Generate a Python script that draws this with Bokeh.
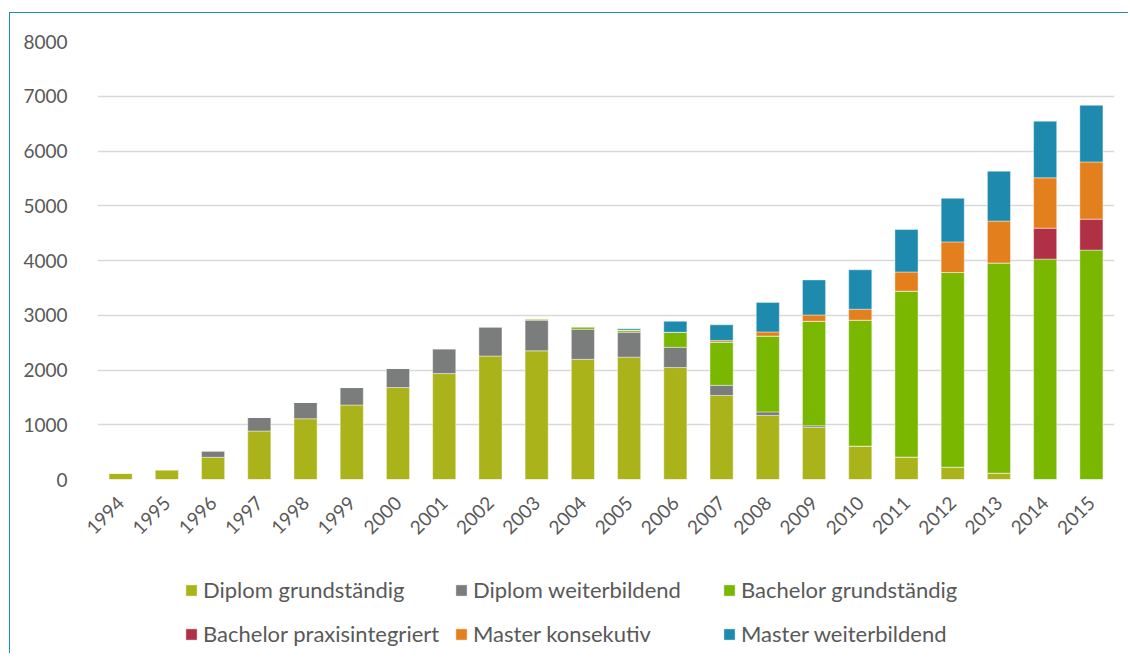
from bokeh.plotting import figure
from bokeh.models import ColumnDataSource, FactorRange, Legend, LegendItem, Range1d, FixedTicker
from bokeh.layouts import column
from bokeh.embed import file_html
from bokeh.resources import INLINE
import math

years = [str(y) for y in range(1994, 2016)]
diplom_grund = [120, 180, 405, 885, 1110, 1360, 1680, 1935, 2255, 2350, 2195, 2235, 2045, 1535, 1170, 950, 610, 410, 225, 115, 0, 0]
diplom_weiter = [0, 0, 120, 250, 300, 320, 350, 455, 535, 560, 550, 455, 370, 185, 65, 30, 0, 0, 0, 0, 0, 0]
bachelor_grund = [0, 0, 0, 0, 0, 0, 0, 0, 0, 25, 45, 30, 275, 790, 1385, 1910, 2300, 3030, 3555, 3840, 4025, 4190]
bachelor_praxis = [0, 0, 0, 0, 0, 0, 0, 0, 0, 0, 0, 0, 0, 0, 0, 0, 0, 0, 0, 0, 565, 565]
master_kons = [0, 0, 0, 0, 0, 0, 0, 0, 0, 0, 0, 10, 0, 30, 75, 115, 200, 350, 560, 765, 920, 1045]
master_weiter = [0, 0, 0, 0, 0, 0, 0, 0, 0, 0, 0, 25, 200, 285, 540, 640, 720, 775, 795, 910, 1035, 1035]

series_keys = ["dg", "dw", "bg", "bp", "mk", "mw"]
series_labels = ["Diplom grundständig", "Diplom weiterbildend", "Bachelor grundständig",
                 "Bachelor praxisintegriert", "Master konsekutiv", "Master weiterbildend"]
colors = ["#ABB31B", "#7A7D7C", "#7AB700", "#B03045", "#E47F1D", "#1D8AAE"]
y_ticks = [0, 1000, 2000, 3000, 4000, 5000, 6000, 7000, 8000]

source = ColumnDataSource(dict(year=years, dg=diplom_grund, dw=diplom_weiter, bg=bachelor_grund,
                               bp=bachelor_praxis, mk=master_kons, mw=master_weiter))

FONT = "Lato"
TXT = "#595959"

p = figure(x_range=FactorRange(*years, range_padding=0), y_range=Range1d(0, 8000),
           width=1118, height=530, output_backend="svg", toolbar_location=None,
           min_border_left=87, min_border_right=14, min_border_top=28, min_border_bottom=64)
p.outline_line_color = None

renderers = p.vbar_stack(series_keys, x="year", width=0.5, color=colors, source=source,
                         line_color="white", line_width=0.6, line_alpha=0.7)

p.xgrid.grid_line_color = None
p.ygrid.grid_line_color = "#D9D9D9"
p.ygrid.grid_line_width = 1.5
p.yaxis.ticker = FixedTicker(ticks=y_ticks)

for ax in (p.xaxis, p.yaxis):
    ax.axis_line_color = None
    ax.major_tick_line_color = None
    ax.minor_tick_line_color = None
    ax.major_label_text_font = FONT
    ax.major_label_text_font_size = "19px"
    ax.major_label_text_color = TXT

p.yaxis.major_label_standoff = 24
p.xaxis.major_label_orientation = math.pi / 4
p.xaxis.major_label_standoff = 14

# legend panel below the chart (swatch renderers sit outside the visible range)
lg = figure(width=1118, height=110, output_backend="svg", toolbar_location=None,
            x_range=Range1d(0, 1), y_range=Range1d(0, 1), min_border=0,
            x_axis_type=None, y_axis_type=None)
lg.outline_line_color = None
lg.grid.visible = False
swatches = [lg.vbar(x=[-10], top=[0], width=0.5, color=c, line_color="white", line_width=0.6, line_alpha=0.7)
            for c in colors]

cols = [(0, 3), (1, 4), (2, 5)]
xs = [87, 357, 625]
for (a, b), x in zip(cols, xs):
    items = [LegendItem(label=series_labels[a], renderers=[swatches[a]]),
             LegendItem(label=series_labels[b], renderers=[swatches[b]])]
    leg = Legend(items=items, location=(x, 6), orientation="vertical",
                 padding=0, margin=0, spacing=17, border_line_color=None,
                 background_fill_alpha=0, glyph_width=14, glyph_height=14,
                 label_standoff=5, label_text_font=FONT, label_text_font_size="22px",
                 label_text_color=TXT, label_height=27)
    lg.add_layout(leg, "center")

layout = column(p, lg, spacing=0)
layout.styles = {"border-top": "1px solid #1B8DBB", "border-left": "1px solid #1B8DBB",
                 "margin-top": "12px", "margin-left": "9px"}

open("out.html", "w").write(file_html(layout, INLINE))
